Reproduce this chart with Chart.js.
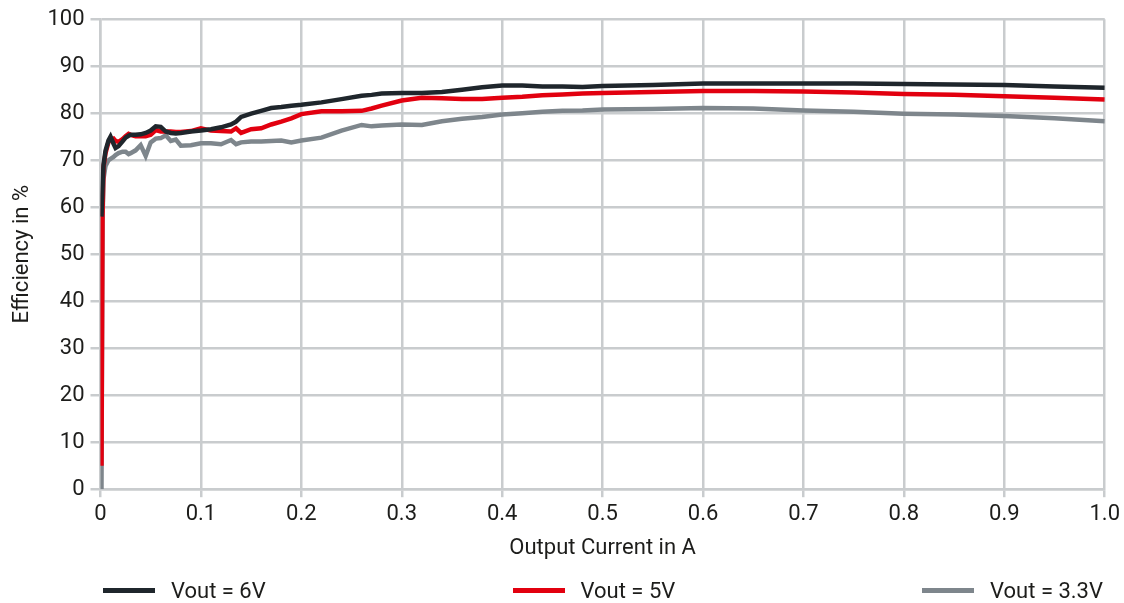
<!DOCTYPE html>
<html>
<head>
<meta charset="utf-8">
<script src="https://cdn.jsdelivr.net/npm/chart.js@4"></script>
<style>
  html, body { margin: 0; padding: 0; background: #fff; }
  #wrap { position: relative; width: 1124px; height: 603px; }
  #legend {
    position: absolute; left: 103px; right: 21px; top: 578px;
    display: flex; justify-content: space-between;
    font: 22px Roboto, sans-serif; color: #1d1d1b;
  }
  .item { display: flex; align-items: center; }
  .swatch { width: 52px; height: 5px; margin-right: 16px; }
</style>
</head>
<body>
<div id="wrap">
  <canvas id="myChart" width="1124" height="603"></canvas>
  <div id="legend"></div>
</div>
<script>
// output current in A (shared by all three curves)
const currents = [
  0.001, 0.002, 0.003, 0.005, 0.008, 0.01, 0.013, 0.015, 0.018, 0.022,
  0.025, 0.028, 0.03, 0.035, 0.04, 0.045, 0.05, 0.055, 0.06, 0.065,
  0.07, 0.075, 0.08, 0.09, 0.1, 0.11, 0.12, 0.13, 0.135, 0.14,
  0.15, 0.16, 0.17, 0.18, 0.19, 0.2, 0.22, 0.24, 0.26, 0.27,
  0.28, 0.3, 0.32, 0.34, 0.36, 0.38, 0.4, 0.42, 0.44, 0.46,
  0.48, 0.5, 0.55, 0.6, 0.65, 0.7, 0.75, 0.8, 0.85, 0.9,
  0.95, 1.0
];

// efficiency in %
const eff6V = [
  58, 64, 69, 72, 74.2, 75, 73.5, 72.6, 73, 74,
  74.8, 75.2, 75.4, 75.4, 75.5, 75.8, 76.3, 77.2, 77.1, 76.1,
  75.8, 75.7, 75.8, 76.1, 76.3, 76.6, 77, 77.6, 78.2, 79.2,
  79.9, 80.5, 81.1, 81.3, 81.6, 81.8, 82.3, 83, 83.7, 83.9,
  84.2, 84.3, 84.3, 84.5, 85, 85.5, 85.9, 85.9, 85.7, 85.7,
  85.6, 85.8, 86, 86.3, 86.3, 86.3, 86.3, 86.2, 86.1, 86,
  85.7, 85.4
];
const eff5V = [
  5, 58, 68.5, 71.5, 73.9, 74.4, 74.6, 74.1, 73.9, 74.5,
  75.1, 75.6, 75.4, 75.1, 75.1, 75.1, 75.4, 76.4, 76.1, 76.1,
  76.1, 76, 76, 76.2, 76.8, 76.3, 76.2, 76.1, 76.8, 75.8,
  76.6, 76.8, 77.6, 78.2, 78.9, 79.8, 80.4, 80.4, 80.5, 81,
  81.6, 82.7, 83.3, 83.2, 83, 83, 83.3, 83.5, 83.8, 84,
  84.2, 84.3, 84.5, 84.7, 84.7, 84.6, 84.4, 84.1, 83.9, 83.6,
  83.3, 82.9
];
const eff3V3 = [
  0, 57, 66, 68.8, 70, 70.3, 70.7, 71.1, 71.5, 71.8,
  71.8, 71.3, 71.5, 72.1, 73.2, 70.9, 73.8, 74.6, 74.7, 75.3,
  74.1, 74.4, 73.1, 73.2, 73.6, 73.6, 73.4, 74.3, 73.4, 73.8,
  74, 74, 74.1, 74.2, 73.8, 74.2, 74.8, 76.3, 77.5, 77.2,
  77.4, 77.6, 77.5, 78.3, 78.8, 79.2, 79.7, 80, 80.3, 80.5,
  80.6, 80.8, 80.9, 81.1, 81, 80.6, 80.3, 79.9, 79.7, 79.4,
  78.9, 78.3
];

const seriesNames = ["Vout = 6V", "Vout = 5V", "Vout = 3.3V"];
const xTickLabels = ["0", "0.1", "0.2", "0.3", "0.4", "0.5", "0.6", "0.7", "0.8", "0.9", "1.0"];

const colors = ["#1f262c", "#e2000f", "#7e868c"];
const gridColor = "#c9ccce";
const textColor = "#1d1d1b";

const toPoints = (ys) => currents.map((x, i) => ({ x: x, y: ys[i] }));
const allSeries = [eff6V, eff5V, eff3V3];

Chart.defaults.font.family = "Roboto, sans-serif";
Chart.defaults.font.size = 22;
Chart.defaults.color = textColor;

var ctx = document.getElementById("myChart").getContext("2d");
var myChart = new Chart(ctx, {
  type: "line",
  data: {
    datasets: allSeries.map((ys, i) => ({
      label: seriesNames[i],
      data: toPoints(ys),
      borderColor: colors[i],
      backgroundColor: colors[i],
      borderWidth: 4.5,
      pointRadius: 0,
      tension: 0,
      fill: false,
    })),
  },
  options: {
    responsive: false,
    animation: false,
    layout: { padding: { top: 5, right: 8, bottom: 41, left: 9 } },
    plugins: {
      legend: { display: false },
      tooltip: { enabled: false },
    },
    scales: {
      x: {
        type: "linear",
        min: 0,
        max: 1,
        ticks: {
          stepSize: 0.1,
          padding: 4,
          maxRotation: 0,
          callback: (v, idx) => xTickLabels[idx],
        },
        grid: { color: gridColor, lineWidth: 2.5, tickLength: 8 },
        border: { color: gridColor, width: 2.5 },
        title: {
          display: true,
          text: "Output Current in A",
          padding: { top: 4, bottom: 0 },
        },
      },
      y: {
        min: 0,
        max: 100,
        ticks: { stepSize: 10, padding: 6 },
        grid: { color: gridColor, lineWidth: 2.5, tickLength: 10 },
        border: { color: gridColor, width: 2.5 },
        title: {
          display: true,
          text: "Efficiency in %",
          padding: { top: 0, bottom: 6 },
        },
      },
    },
  },
});

// legend spread across the plot width
const legendEl = document.getElementById("legend");
seriesNames.forEach((name, i) => {
  const item = document.createElement("div");
  item.className = "item";
  const sw = document.createElement("span");
  sw.className = "swatch";
  sw.style.background = colors[i];
  const label = document.createElement("span");
  label.textContent = name;
  item.appendChild(sw);
  item.appendChild(label);
  legendEl.appendChild(item);
});
</script>
</body>
</html>
